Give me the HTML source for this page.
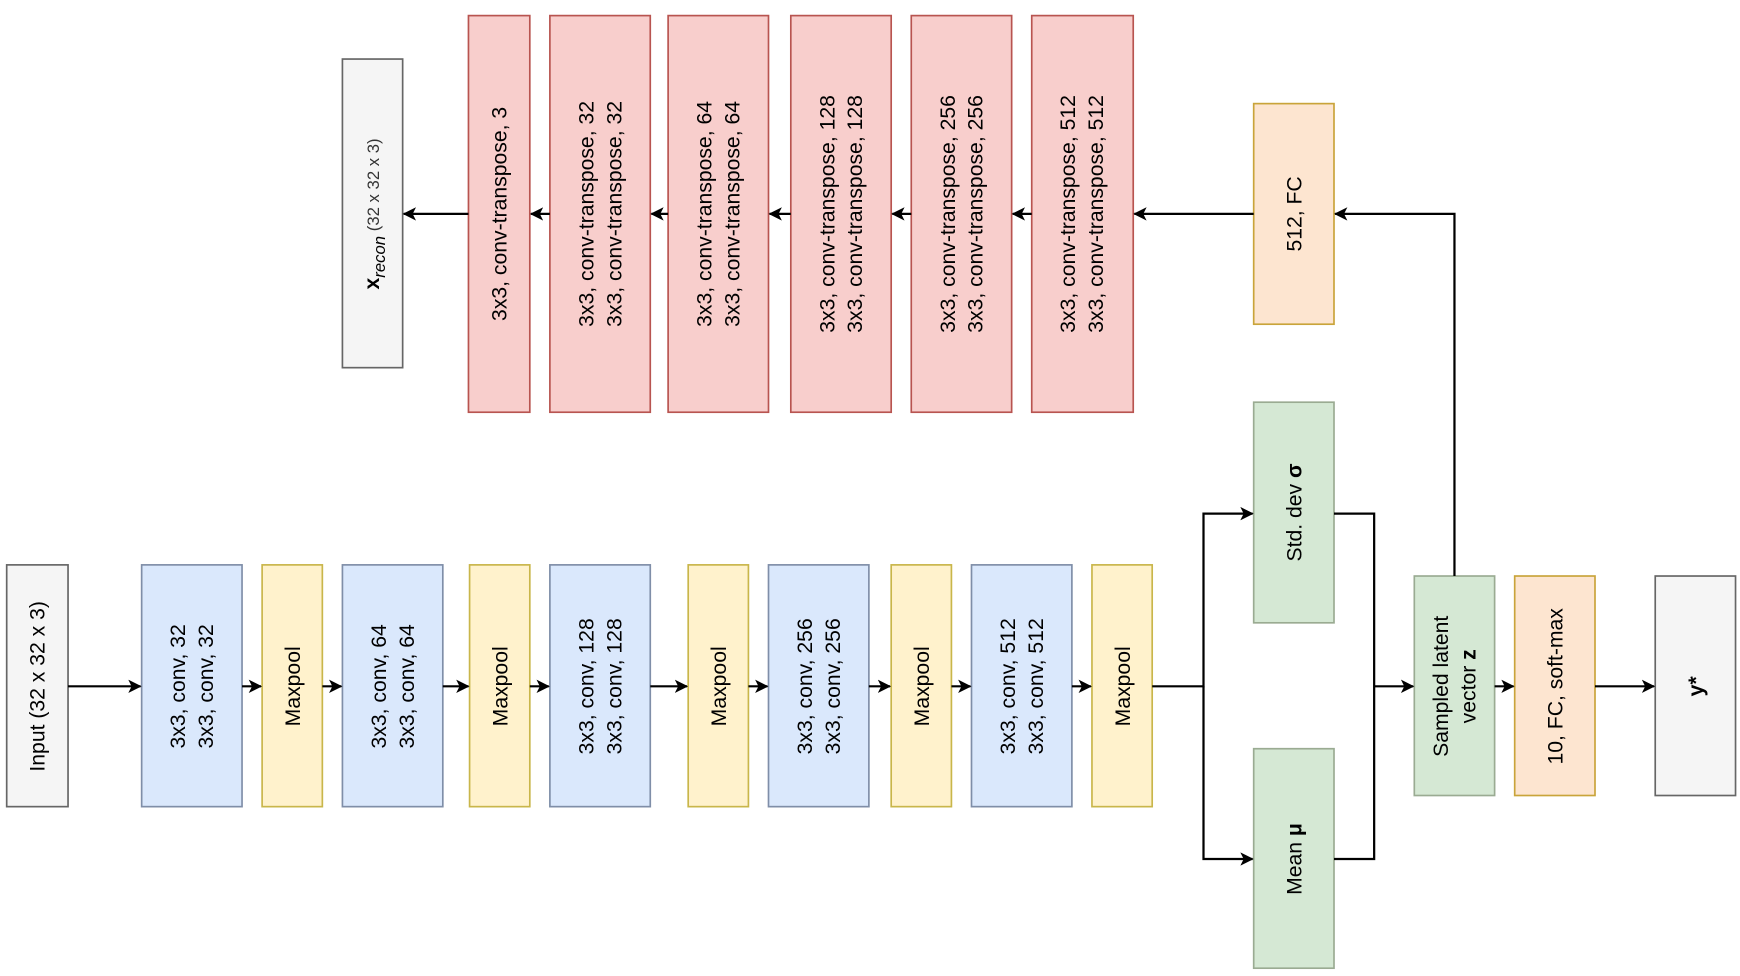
<!DOCTYPE html>
<html><head><meta charset="utf-8"><style>
html,body{margin:0;padding:0;background:#fff;}
svg{display:block;}
text{font-family:"Liberation Sans",Arial,sans-serif;font-size:19px;fill:#000;}
</style></head><body>
<svg width="1740" height="976" viewBox="0 0 1560 876" preserveAspectRatio="none" xmlns="http://www.w3.org/2000/svg">
<defs>
<marker id="a" viewBox="0 0 12 12" refX="11" refY="6" markerWidth="12" markerHeight="12" markerUnits="userSpaceOnUse" orient="auto">
<path d="M0,0 L12,6 L0,12 L3,6 Z" fill="#000"/>
</marker>
</defs>
<g stroke-width="1.5">
<!-- top row -->
<rect x="307" y="53" width="54" height="277" fill="#f5f5f5" stroke="#666"/>
<rect x="420" y="14" width="55" height="356" fill="#f8cecc" stroke="#b85450"/>
<rect x="493" y="14" width="90" height="356" fill="#f8cecc" stroke="#b85450"/>
<rect x="599" y="14" width="90" height="356" fill="#f8cecc" stroke="#b85450"/>
<rect x="709" y="14" width="90" height="356" fill="#f8cecc" stroke="#b85450"/>
<rect x="817" y="14" width="90" height="356" fill="#f8cecc" stroke="#b85450"/>
<rect x="925" y="14" width="91" height="356" fill="#f8cecc" stroke="#b85450"/>
<rect x="1124" y="93" width="72" height="198" fill="#fde5d0" stroke="#c9a43a"/>
<!-- bottom row -->
<rect x="6" y="507" width="55" height="217" fill="#f5f5f5" stroke="#666"/>
<rect x="127" y="507" width="90" height="217" fill="#dae8fc" stroke="#7f8ea8"/>
<rect x="235" y="507" width="54" height="217" fill="#fff2cc" stroke="#c9b64a"/>
<rect x="307" y="507" width="90" height="217" fill="#dae8fc" stroke="#7f8ea8"/>
<rect x="421" y="507" width="54" height="217" fill="#fff2cc" stroke="#c9b64a"/>
<rect x="493" y="507" width="90" height="217" fill="#dae8fc" stroke="#7f8ea8"/>
<rect x="617" y="507" width="54" height="217" fill="#fff2cc" stroke="#c9b64a"/>
<rect x="689" y="507" width="90" height="217" fill="#dae8fc" stroke="#7f8ea8"/>
<rect x="799" y="507" width="54" height="217" fill="#fff2cc" stroke="#c9b64a"/>
<rect x="871" y="507" width="90" height="217" fill="#dae8fc" stroke="#7f8ea8"/>
<rect x="979" y="507" width="54" height="217" fill="#fff2cc" stroke="#c9b64a"/>
<rect x="1124" y="361" width="72" height="198" fill="#d5e8d4" stroke="#9aab92"/>
<rect x="1124" y="672" width="72" height="197" fill="#d5e8d4" stroke="#9aab92"/>
<rect x="1268" y="517" width="72" height="197" fill="#d5e8d4" stroke="#9aab92"/>
<rect x="1358" y="517" width="72" height="197" fill="#fde5d0" stroke="#c9a43a"/>
<rect x="1484" y="517" width="72" height="197" fill="#f5f5f5" stroke="#666"/>
</g>
<g stroke="#000" stroke-width="2" fill="none">
<line x1="1124" y1="192" x2="1017" y2="192" marker-end="url(#a)"/>
<line x1="925" y1="192" x2="908" y2="192" marker-end="url(#a)"/>
<line x1="817" y1="192" x2="800" y2="192" marker-end="url(#a)"/>
<line x1="709" y1="192" x2="690" y2="192" marker-end="url(#a)"/>
<line x1="599" y1="192" x2="584" y2="192" marker-end="url(#a)"/>
<line x1="493" y1="192" x2="476" y2="192" marker-end="url(#a)"/>
<line x1="420" y1="192" x2="362" y2="192" marker-end="url(#a)"/>
<polyline points="1304,517 1304,192 1197,192" marker-end="url(#a)"/>
<line x1="61" y1="616" x2="126" y2="616" marker-end="url(#a)"/>
<line x1="217" y1="616" x2="234" y2="616" marker-end="url(#a)"/>
<line x1="289" y1="616" x2="306" y2="616" marker-end="url(#a)"/>
<line x1="397" y1="616" x2="420" y2="616" marker-end="url(#a)"/>
<line x1="475" y1="616" x2="492" y2="616" marker-end="url(#a)"/>
<line x1="583" y1="616" x2="616" y2="616" marker-end="url(#a)"/>
<line x1="671" y1="616" x2="688" y2="616" marker-end="url(#a)"/>
<line x1="779" y1="616" x2="798" y2="616" marker-end="url(#a)"/>
<line x1="853" y1="616" x2="870" y2="616" marker-end="url(#a)"/>
<line x1="961" y1="616" x2="978" y2="616" marker-end="url(#a)"/>
<polyline points="1033,616 1079,616 1079,461 1123,461" marker-end="url(#a)"/>
<polyline points="1079,616 1079,771 1123,771" marker-end="url(#a)"/>
<polyline points="1196,461 1232,461 1232,771 1196,771"/>
<line x1="1232" y1="616" x2="1267" y2="616" marker-end="url(#a)"/>
<line x1="1340" y1="616" x2="1357" y2="616" marker-end="url(#a)"/>
<line x1="1430" y1="616" x2="1483" y2="616" marker-end="url(#a)"/>
</g>
<g text-anchor="middle">
<!-- top texts -->
<text transform="translate(340,192) rotate(-90)"><tspan font-weight="bold">x</tspan><tspan font-style="italic" font-size="15" dy="5">recon</tspan><tspan font-size="15" fill="#333" dy="-5"> (32 x 32 x 3)</tspan></text>
<text transform="translate(454,192) rotate(-90)">3x3,  conv-transpose, 3</text>
<text transform="translate(532,192) rotate(-90)">3x3,  conv-transpose, 32</text>
<text transform="translate(557,192) rotate(-90)">3x3,  conv-transpose, 32</text>
<text transform="translate(638,192) rotate(-90)">3x3,  conv-transpose, 64</text>
<text transform="translate(663,192) rotate(-90)">3x3,  conv-transpose, 64</text>
<text transform="translate(748,192) rotate(-90)">3x3,  conv-transpose, 128</text>
<text transform="translate(773,192) rotate(-90)">3x3,  conv-transpose, 128</text>
<text transform="translate(856,192) rotate(-90)">3x3,  conv-transpose, 256</text>
<text transform="translate(881,192) rotate(-90)">3x3,  conv-transpose, 256</text>
<text transform="translate(964,192) rotate(-90)">3x3,  conv-transpose, 512</text>
<text transform="translate(989,192) rotate(-90)">3x3,  conv-transpose, 512</text>
<text transform="translate(1167,192) rotate(-90)">512, FC</text>
<!-- bottom texts -->
<text transform="translate(40,616) rotate(-90)" fill="#333">Input (32 x 32 x 3)</text>
<text transform="translate(166,616) rotate(-90)">3x3,  conv, 32</text>
<text transform="translate(191,616) rotate(-90)">3x3,  conv, 32</text>
<text transform="translate(269,616) rotate(-90)">Maxpool</text>
<text transform="translate(346,616) rotate(-90)">3x3,  conv, 64</text>
<text transform="translate(371,616) rotate(-90)">3x3,  conv, 64</text>
<text transform="translate(455,616) rotate(-90)">Maxpool</text>
<text transform="translate(532,616) rotate(-90)">3x3,  conv, 128</text>
<text transform="translate(557,616) rotate(-90)">3x3,  conv, 128</text>
<text transform="translate(651,616) rotate(-90)">Maxpool</text>
<text transform="translate(728,616) rotate(-90)">3x3,  conv, 256</text>
<text transform="translate(753,616) rotate(-90)">3x3,  conv, 256</text>
<text transform="translate(833,616) rotate(-90)">Maxpool</text>
<text transform="translate(910,616) rotate(-90)">3x3,  conv, 512</text>
<text transform="translate(935,616) rotate(-90)">3x3,  conv, 512</text>
<text transform="translate(1013,616) rotate(-90)">Maxpool</text>
<text transform="translate(1167,460) rotate(-90)">Std. dev <tspan font-weight="bold">σ</tspan></text>
<text transform="translate(1167,771) rotate(-90)">Mean <tspan font-weight="bold">μ</tspan></text>
<text transform="translate(1298,616) rotate(-90)">Sampled latent</text>
<text transform="translate(1323,616) rotate(-90)">vector <tspan font-weight="bold">z</tspan></text>
<text transform="translate(1401,616) rotate(-90)">10, FC, soft-max</text>
<text transform="translate(1527,616) rotate(-90)" font-weight="bold" fill="#333">y*</text>
</g>
</svg>
</body></html>
